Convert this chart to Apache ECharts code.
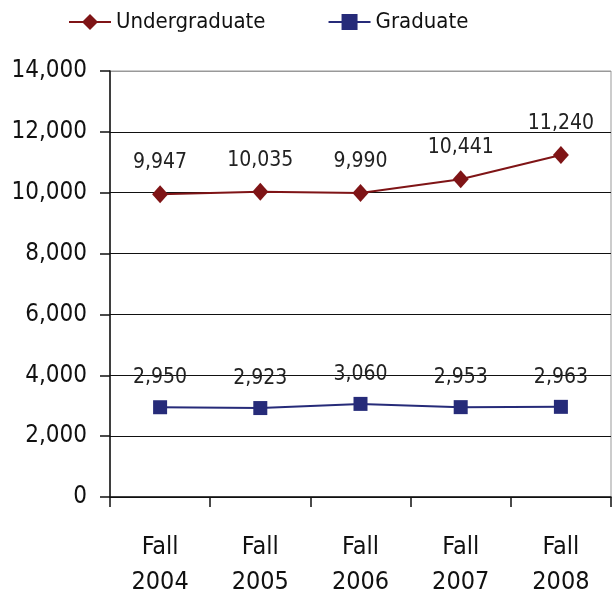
<!DOCTYPE html>
<html>
<head>
<meta charset="utf-8">
<script src="https://cdn.jsdelivr.net/npm/echarts@6/dist/echarts.min.js"></script>
<style>
  html, body { margin: 0; padding: 0; background: #fff; }
  #chart { width: 613px; height: 602px; }
</style>
</head>
<body>
<div id="chart"></div>
<script>
// data
var categories = ['Fall\n2004', 'Fall\n2005', 'Fall\n2006', 'Fall\n2007', 'Fall\n2008']
var undergraduate = [9947, 10035, 9990, 10441, 11240]
var graduate = [2950, 2923, 3060, 2953, 2963]
var yTicks = { min: 0, max: 14000, interval: 2000 }

var FONT = '"DejaVu Sans Condensed", "Liberation Sans Narrow", "Liberation Sans", sans-serif'
var fmt = function (v) { return v.toLocaleString('en-US') }

var myChart = echarts.init(document.getElementById('chart'))
var option = {
  animation: false,
  textStyle: { fontFamily: FONT },
  legend: {
    left: 63,
    top: 6,
    itemWidth: 42,
    itemHeight: 20,
    itemGap: 62,
    textStyle: { fontSize: 22, color: '#111', fontFamily: FONT },
    data: ['Undergraduate', 'Graduate']
  },
  grid: {
    left: 110,
    right: 2,
    top: 71,
    bottom: 105,
    show: true,
    borderColor: '#999',
    borderWidth: 1
  },
  xAxis: {
    type: 'category',
    data: categories,
    boundaryGap: true,
    axisLine: { lineStyle: { color: '#111', width: 1.5 } },
    axisTick: { show: true, length: 10, lineStyle: { color: '#111', width: 1.5 } },
    axisLabel: {
      color: '#111',
      fontSize: 25,
      lineHeight: 35,
      margin: 33,
      fontFamily: FONT
    }
  },
  yAxis: {
    type: 'value',
    min: yTicks.min,
    max: yTicks.max,
    interval: yTicks.interval,
    axisLine: { show: true, lineStyle: { color: '#111', width: 1.5 } },
    axisTick: { show: true, length: 10, lineStyle: { color: '#111', width: 1.5 } },
    axisLabel: {
      color: '#111',
      fontSize: 24,
      margin: 23,
      fontFamily: FONT,
      formatter: fmt
    },
    splitLine: {
      lineStyle: {
        color: ['#111', '#111', '#111', '#111', '#111', '#111', '#111', '#999'],
        width: 1.2
      }
    }
  },
  series: [
    {
      name: 'Undergraduate',
      type: 'line',
      data: undergraduate,
      symbol: 'diamond',
      symbolSize: [16, 18],
      itemStyle: { color: '#7f1416' },
      lineStyle: { color: '#7f1416', width: 2 },
      label: {
        show: true,
        position: 'top',
        distance: 12,
        fontSize: 21,
        color: '#222',
        fontFamily: FONT,
        formatter: function (p) { return fmt(p.value) }
      }
    },
    {
      name: 'Graduate',
      type: 'line',
      data: graduate,
      symbol: 'rect',
      symbolSize: 14,
      itemStyle: { color: '#262b79' },
      lineStyle: { color: '#262b79', width: 2 },
      label: {
        show: true,
        position: 'top',
        distance: 12,
        fontSize: 21,
        color: '#222',
        fontFamily: FONT,
        formatter: function (p) { return fmt(p.value) }
      }
    }
  ]
}
myChart.setOption(option)
</script>
</body>
</html>
